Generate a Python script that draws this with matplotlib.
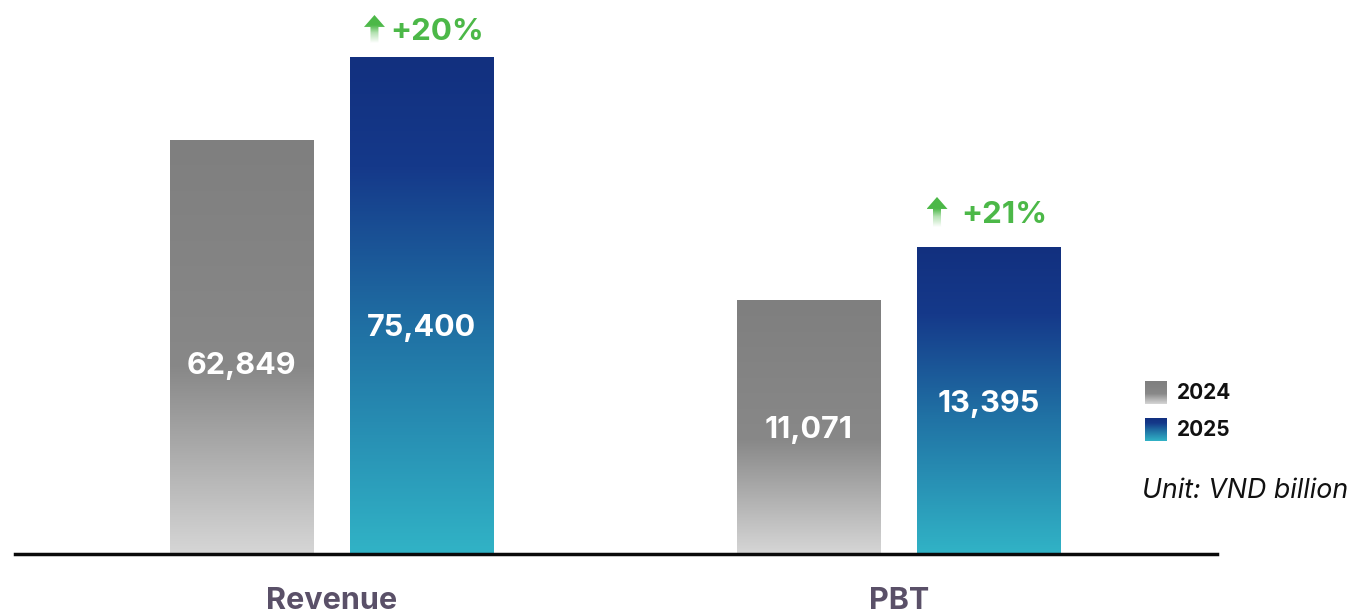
import numpy as np
import matplotlib
matplotlib.use("Agg")
from matplotlib import pyplot as plt
from matplotlib.colors import LinearSegmentedColormap
from matplotlib.patches import Polygon, Rectangle

plt.rcParams['font.family'] = ['Inter', 'DejaVu Sans']

categories = ['Revenue', 'PBT']
years = ['2024', '2025']
values_2024 = [62849, 11071]
values_2025 = [75400, 13395]
value_labels_2024 = ['62,849', '11,071']
value_labels_2025 = ['75,400', '13,395']
growth_labels = ['+20%', '+21%']
unit_label = 'Unit: VND billion'

# each group has its own vertical scale (top of axes in data units)
group_ylim = [84050, 24170]
label_frac = [0.455, 0.49]

GRAY = LinearSegmentedColormap.from_list(
    'gray', [(0, '#d6d6d6'), (0.45, '#888888'), (1, '#7f7f7f')])
BLUE = LinearSegmentedColormap.from_list(
    'blue', [(0, '#31b3c6'), (0.45, '#2071a4'), (0.78, '#15398a'), (1, '#12307f')])
GREEN = '#4cb848'
ARROW = LinearSegmentedColormap.from_list(
    'ag', [(0, '#ffffff'), (0.35, '#b5e2b3'), (0.62, GREEN), (1, GREEN)])

W, H = 1357, 613
fig = plt.figure(figsize=(W / 100, H / 100), dpi=100)

base = (H - 554) / H
x_left = -0.584
x_right = 1.807
bar_w = 0.252
off = 0.1586

# arrow placement relative to top-centre of the 2025 bar (pixels)
arrow_dx = [-47, -52]
arrow_top = [42, 50]
arrow_bot = [14, 20]
text_dx = [16, 24]

grad = np.linspace(0, 1, 256).reshape(-1, 1)


def gradient_bar(ax, x, h, cmap):
    bars = ax.bar(x, h, width=bar_w, color='none', edgecolor='none')
    r = bars[0]
    img = ax.imshow(grad, cmap=cmap, origin='lower', aspect='auto',
                    extent=(x - bar_w / 2, x + bar_w / 2, 0, h), zorder=2)
    img.set_clip_path(r)
    return r


def px_to_data(ax, px, py):
    # figure pixel coords (origin top-left) -> data coords
    return ax.transData.inverted().transform((px, H - py))


for i, cat in enumerate(categories):
    ax = fig.add_axes([0, base, 1, 1 - base])
    ax.set_xlim(x_left, x_right)
    ax.set_ylim(0, group_ylim[i])
    ax.axis('off')
    ax.patch.set_alpha(0)

    gradient_bar(ax, i - off, values_2024[i], GRAY)
    gradient_bar(ax, i + off, values_2025[i], BLUE)
    ax.set_xlim(x_left, x_right)
    ax.set_ylim(0, group_ylim[i])

    ax.text(i - off, values_2024[i] * label_frac[i], value_labels_2024[i],
            ha='center', va='center', color='white', fontsize=22, fontweight='bold', zorder=5)
    ax.text(i + off, values_2025[i] * label_frac[i], value_labels_2025[i],
            ha='center', va='center', color='white', fontsize=22, fontweight='bold', zorder=5)

    # growth arrow + label above the 2025 bar
    fig.canvas.draw()
    tx, ty = ax.transData.transform((i + off, values_2025[i]))
    top_px = H - ty
    cx = tx + arrow_dx[i]
    ay0 = top_px - arrow_top[i]
    ay1 = top_px - arrow_bot[i]
    hw, sw, hh = 10.5, 4, 12
    pts_px = [(cx, ay0), (cx + hw, ay0 + hh), (cx + sw, ay0 + hh), (cx + sw, ay1),
              (cx - sw, ay1), (cx - sw, ay0 + hh), (cx - hw, ay0 + hh)]
    pts = [px_to_data(ax, px, py) for px, py in pts_px]
    arrow = Polygon(pts, closed=True, facecolor='none', edgecolor='none')
    ax.add_patch(arrow)
    g0 = px_to_data(ax, cx - hw, ay1)
    g1 = px_to_data(ax, cx + hw, ay0)
    aimg = ax.imshow(grad, cmap=ARROW, origin='lower', aspect='auto',
                     extent=(g0[0], g1[0], g0[1], g1[1]), zorder=4)
    aimg.set_clip_path(arrow)
    lx, ly = px_to_data(ax, cx + text_dx[i], (ay0 + ay1) / 2 + 3)
    ax.text(lx, ly, growth_labels[i], ha='left', va='center', color=GREEN,
            fontsize=22.5, fontweight='bold')
    ax.set_xlim(x_left, x_right)
    ax.set_ylim(0, group_ylim[i])

    fig.text((i - x_left) / (x_right - x_left), 1 - 601 / H, cat, ha='center', va='center',
             color='#5a5068', fontsize=22, fontweight='bold')

# baseline
fig.add_artist(plt.Line2D([15 / W, 1217 / W], [1 - 554 / H] * 2, color='#0a0a0a', lw=2.5))

# legend
leg_ax = fig.add_axes([0, 0, 1, 1])
leg_ax.set_xlim(0, W)
leg_ax.set_ylim(H, 0)
leg_ax.axis('off')
leg_ax.patch.set_alpha(0)
for k, (yr, cmap) in enumerate(zip(years, [GRAY, BLUE])):
    y0 = 381 + k * 37
    sq = Rectangle((1145, y0), 22, 23, facecolor='none', edgecolor='none')
    leg_ax.add_patch(sq)
    im = leg_ax.imshow(grad, cmap=cmap, origin='lower', aspect='auto',
                       extent=(1145, 1167, y0 + 23, y0))
    im.set_clip_path(sq)
    leg_ax.text(1177, y0 + 12, yr, ha='left', va='center', fontsize=15,
                fontweight='bold', color='#111111')
leg_ax.text(1142, 491, unit_label, ha='left', va='center', fontsize=19.3,
            style='italic', color='#111111')
leg_ax.set_xlim(0, W)
leg_ax.set_ylim(H, 0)

fig.savefig('out.png', dpi=100)
